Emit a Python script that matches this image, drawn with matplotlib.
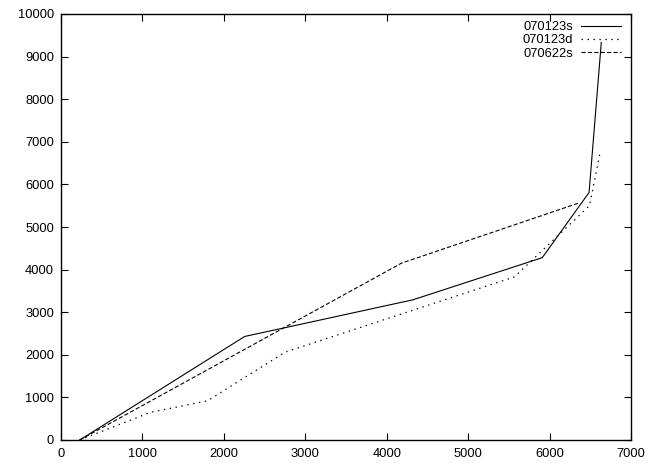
import matplotlib
matplotlib.use('Agg')
import matplotlib.pyplot as plt

plt.rcParams['font.family'] = ['Liberation Sans', 'DejaVu Sans']
plt.rcParams['lines.scale_dashes'] = False

# series
x_070123s = [230, 2255, 4320, 5910, 6485, 6635]
y_070123s = [0, 2430, 3290, 4280, 5810, 9330]

x_070123d = [230, 1100, 1800, 2750, 5570, 6490, 6620]
y_070123d = [0, 650, 920, 2060, 3830, 5500, 6740]

x_070622s = [230, 4180, 6370]
y_070622s = [0, 4150, 5570]

x_ticks = [0, 1000, 2000, 3000, 4000, 5000, 6000, 7000]
y_ticks = [0, 1000, 2000, 3000, 4000, 5000, 6000, 7000, 8000, 9000, 10000]

fig = plt.figure(figsize=(6.6, 4.63), dpi=100)
ax = fig.add_axes([61 / 660, 23 / 463, 570 / 660, 426 / 463])

ax.plot(x_070123s, y_070123s, color='black', lw=0.8, label='070123s')
ax.plot(x_070123d, y_070123d, color='black', lw=0.9, linestyle=(0, (1.0, 3.3)), label='070123d')
ax.plot(x_070622s, y_070622s, color='black', lw=0.8, linestyle=(0, (3.0, 1.6)), label='070622s')

ax.set_xlim(0, 7000)
ax.set_ylim(0, 10000)
ax.set_xticks(x_ticks)
ax.set_yticks(y_ticks)
ax.tick_params(direction='in', length=5, width=0.8, top=True, right=True,
               labelsize=9.3)
ax.tick_params(axis='x', pad=5.5)
ax.tick_params(axis='y', pad=5)
for s in ax.spines.values():
    s.set_linewidth(1.0)

# legend text on the left, sample on the right, like gnuplot's key
ax.legend(loc='upper right', bbox_to_anchor=(1.0, 1.007), frameon=False,
          markerfirst=False, fontsize=9.3,
          handlelength=3.1, handletextpad=0.6, labelspacing=0.08,
          borderaxespad=0.6, borderpad=0.2)

fig.savefig('out.png', dpi=100)
